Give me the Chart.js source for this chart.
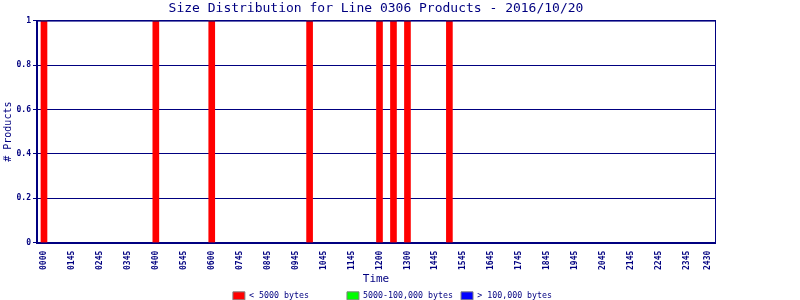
<!DOCTYPE html>
<html>
<head>
    <title>Size Distribution</title>
    <script src="https://cdn.jsdelivr.net/npm/chart.js"></script>
    <style>
        body { margin: 0; background: #fff; }
        #wrap { width: 800px; height: 300px; }
    </style>
</head>
<body>
    <div id="wrap"><canvas id="sizeChart" width="800" height="300"></canvas></div>
    <script>
        // x positions are 15-minute slots, labels only shown on some of them
        const tickSlots = [0, 4, 8, 12, 16, 20, 24, 28, 32, 36, 40, 44, 48, 52, 56, 60, 64, 68, 72, 76, 80, 84, 88, 92, 95];
        const tickLabels = ['0000', '0145', '0245', '0345', '0400', '0545', '0600', '0745', '0845', '0945', '1045', '1145',
            '1200', '1300', '1445', '1545', '1645', '1745', '1845', '1945', '2045', '2145', '2245', '2345', '2430'];
        const barSlots = [0, 16, 24, 38, 48, 50, 52, 58];
        const smallCounts = [1, 1, 1, 1, 1, 1, 1, 1];
        const mediumCounts = [0, 0, 0, 0, 0, 0, 0, 0];
        const largeCounts = [0, 0, 0, 0, 0, 0, 0, 0];

        const navy = '#000080';
        const mono = "'DejaVu Sans Mono', monospace";

        function points(vals) {
            return barSlots.map((s, i) => ({ x: s, y: vals[i] }));
        }

        // top edge of the plot box (right edge comes from y2)
        const frame = {
            id: 'frame',
            afterDraw(chart) {
                const a = chart.chartArea;
                const ctx = chart.ctx;
                ctx.save();
                ctx.strokeStyle = navy;
                ctx.lineWidth = 1;
                ctx.beginPath();
                ctx.moveTo(a.left, a.top + 0.5);
                ctx.lineTo(a.right, a.top + 0.5);
                ctx.stroke();
                ctx.restore();
            }
        };

        const ctx = document.getElementById('sizeChart').getContext('2d');
        new Chart(ctx, {
            type: 'bar',
            data: {
                datasets: [{
                    label: '< 5000 bytes',
                    data: points(smallCounts),
                    backgroundColor: '#ff0000'
                }, {
                    label: '5000-100,000 bytes',
                    data: points(mediumCounts),
                    backgroundColor: '#00ff00'
                }, {
                    label: '> 100,000 bytes',
                    data: points(largeCounts),
                    backgroundColor: '#0000ff'
                }]
            },
            options: {
                responsive: false,
                animation: false,
                datasets: { bar: { barThickness: 6, borderWidth: 0, grouped: false } },
                layout: { padding: { left: 0, right: 15, top: 0, bottom: -10 } },
                scales: {
                    x: {
                        type: 'linear',
                        stacked: true,
                        min: -1,
                        max: 96,
                        offset: false,
                        grid: { display: false },
                        border: { color: navy, width: 2 },
                        afterBuildTicks: (axis) => { axis.ticks = tickSlots.map(v => ({ value: v })); },
                        afterFit: (scale) => { scale.height = 46; },
                        ticks: {
                            autoSkip: false,
                            minRotation: 90,
                            maxRotation: 90,
                            color: navy,
                            padding: 0,
                            font: { family: mono, size: 8, weight: 'bold' },
                            callback: (v) => tickLabels[tickSlots.indexOf(v)]
                        },
                        title: {
                            display: true,
                            text: 'Time',
                            color: navy,
                            padding: { top: 0, bottom: 3 },
                            font: { family: mono, size: 11 }
                        }
                    },
                    y: {
                        stacked: true,
                        min: 0,
                        max: 1,
                        grid: { color: navy, lineWidth: 1, tickLength: 4 },
                        border: { color: navy, width: 2 },
                        afterFit: (scale) => { scale.width = 37; },
                        ticks: {
                            stepSize: 0.2,
                            color: navy,
                            padding: 2,
                            font: { family: mono, size: 8, weight: 'bold' },
                            callback: (v) => Math.round(v * 10) / 10
                        },
                        title: {
                            display: true,
                            text: '# Products',
                            color: navy,
                            padding: { top: 2, bottom: 0 },
                            font: { family: mono, size: 10 }
                        }
                    },
                    y2: {
                        position: 'right',
                        min: 0,
                        max: 1,
                        grid: { drawOnChartArea: false, drawTicks: false },
                        border: { color: navy, width: 1 },
                        ticks: { display: false },
                        afterFit: (scale) => { scale.width = 70; }
                    }
                },
                plugins: {
                    title: {
                        display: true,
                        fullSize: false,
                        text: 'Size Distribution for Line 0306 Products - 2016/10/20',
                        color: navy,
                        padding: { top: 1, bottom: 4 },
                        font: { family: mono, size: 13, weight: 'normal' }
                    },
                    legend: {
                        position: 'bottom',
                        labels: {
                            boxWidth: 12,
                            boxHeight: 8,
                            padding: 3,
                            color: navy,
                            font: { family: mono, size: 8.3 },
                            generateLabels: (chart) => chart.data.datasets.map((d, i) => ({
                                text: i < 2 ? d.label.padEnd(19) : d.label,
                                fillStyle: d.backgroundColor,
                                strokeStyle: '#808080',
                                lineWidth: 1,
                                fontColor: navy,
                                datasetIndex: i
                            }))
                        }
                    },
                    tooltip: { enabled: false }
                }
            },
            plugins: [frame]
        });
    </script>
</body>
</html>
